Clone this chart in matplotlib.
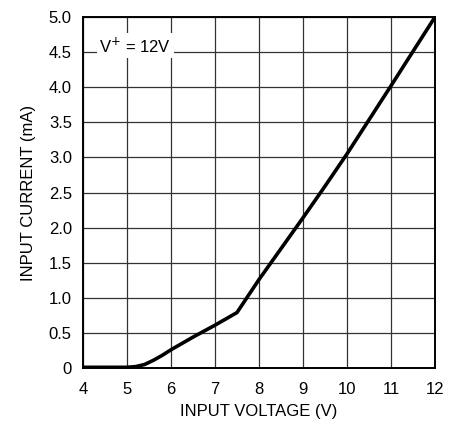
import matplotlib
matplotlib.use("Agg")
import matplotlib.pyplot as plt

# input voltage (V) vs input current (mA)
volts = [4.0, 5.0, 5.2, 5.4, 5.6, 5.8, 6.0, 6.5, 7.0, 7.5, 8.0, 8.5, 9.0, 9.5, 10.0, 11.0, 12.0]
current = [0.01, 0.01, 0.02, 0.05, 0.11, 0.18, 0.26, 0.44, 0.61, 0.79, 1.26, 1.70, 2.14, 2.59, 3.05, 4.02, 5.0]

x_ticks = [4, 5, 6, 7, 8, 9, 10, 11, 12]
y_ticks = [0, 0.5, 1.0, 1.5, 2.0, 2.5, 3.0, 3.5, 4.0, 4.5, 5.0]
y_labels = ["0", "0.5", "1.0", "1.5", "2.0", "2.5", "3.0", "3.5", "4.0", "4.5", "5.0"]

plt.rcParams["font.family"] = ["Liberation Sans", "DejaVu Sans"]

fig = plt.figure(figsize=(4.61, 4.23), dpi=100)
ax = fig.add_axes([0.180, 0.130, 0.7636, 0.8298])

ax.plot(volts, current, color="black", linewidth=2.6, solid_capstyle="butt",
        solid_joinstyle="round", zorder=3)

ax.set_xlim(4, 12)
ax.set_ylim(0, 5)
ax.set_xticks(x_ticks)
ax.set_yticks(y_ticks)
ax.set_yticklabels(y_labels)
ax.tick_params(axis="x", length=0, labelsize=12, pad=10)
ax.tick_params(axis="y", length=0, labelsize=12, pad=8)
ax.grid(True, color="#333333", linewidth=0.9)
for s in ax.spines.values():
    s.set_linewidth(1.4)

ax.set_xlabel("INPUT VOLTAGE (V)", fontsize=12, labelpad=5)
ax.set_ylabel("INPUT CURRENT (mA)", fontsize=12, labelpad=9)

ax.text(5.19, 4.59, "V$^{+}$ = 12V", fontsize=12, ha="center", va="center",
        bbox=dict(facecolor="white", edgecolor="none", pad=2), zorder=4)

fig.savefig("out.png", dpi=100)
